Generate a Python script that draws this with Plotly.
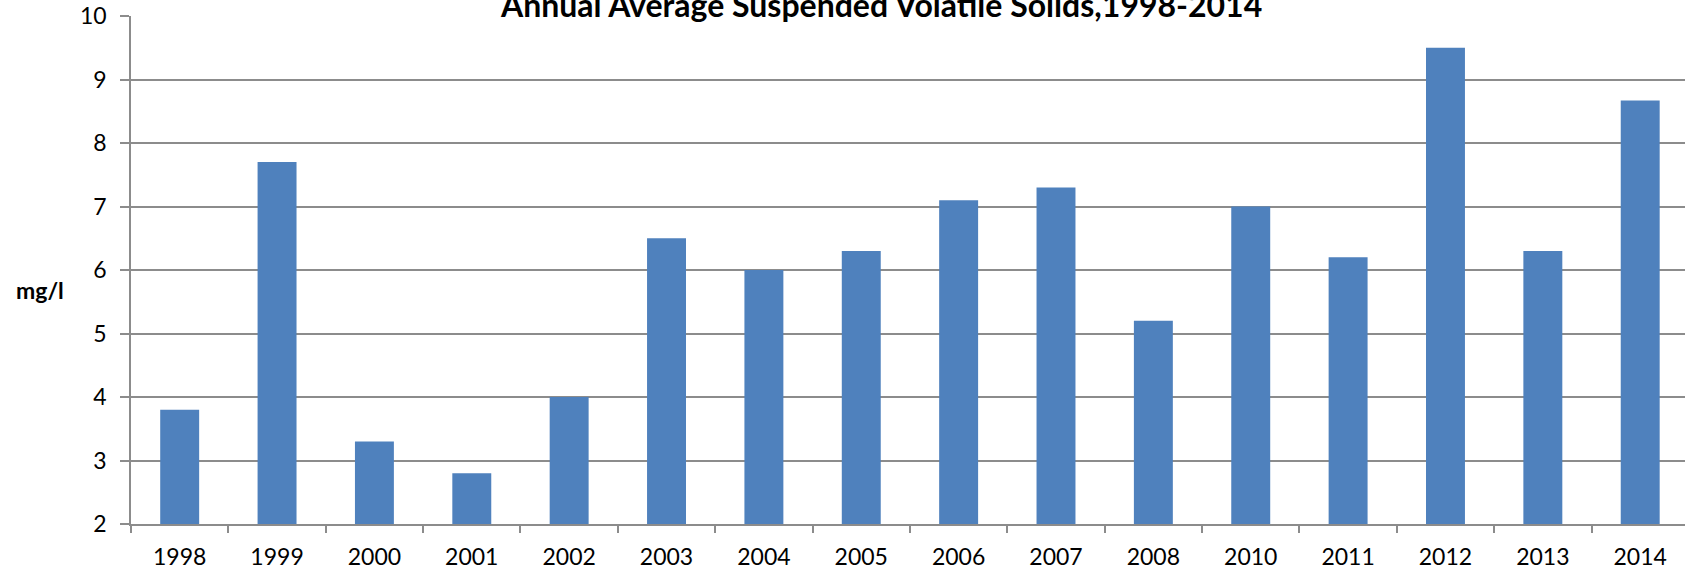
import plotly.graph_objects as go

years = ["1998", "1999", "2000", "2001", "2002", "2003", "2004", "2005",
         "2006", "2007", "2008", "2010", "2011", "2012", "2013", "2014"]
svs_mg_l = [3.8, 7.7, 3.3, 2.8, 4.0, 6.5, 6.0, 6.3,
            7.1, 7.3, 5.2, 7.0, 6.2, 9.5, 6.3, 8.67]
y_ticks = [2, 3, 4, 5, 6, 7, 8, 9, 10]

title_text = "Annual Average Suspended Volatile Solids,1998-2014"
y_label = "mg/l"

FONT = "Lato, 'Open Sans', sans-serif"
GRID = "#8c8c8c"
BAR = "#4F81BD"
FLOOR = 2  # value where the y axis starts; bars rise from here

fig = go.Figure(go.Bar(
    x=years, y=[v - FLOOR for v in svs_mg_l], base=FLOOR,
    marker=dict(color=BAR, line=dict(width=0)), showlegend=False,
))

fig.update_layout(
    width=1685, height=577,
    margin=dict(l=131, r=0, t=16, b=53),
    paper_bgcolor="white", plot_bgcolor="white",
    bargap=0.6,
    font=dict(family=FONT, size=23, color="#000000"),
    xaxis=dict(
        type="category", range=[-0.5, 15.46],
        showline=True, linecolor=GRID, linewidth=1.5,
        ticks="outside", tickson="boundaries", ticklen=7, tickcolor=GRID, tickwidth=1.5,
        showgrid=False, tickfont=dict(size=23), ticklabelstandoff=12,
    ),
    yaxis=dict(
        range=[2, 10], tickvals=y_ticks,
        showline=True, linecolor=GRID, linewidth=1.5,
        ticks="outside", ticklen=9, tickcolor=GRID, tickwidth=1.5,
        showgrid=True, gridcolor=GRID, gridwidth=1.5,
        zeroline=False, tickfont=dict(size=23), ticklabelstandoff=9,
    ),
    annotations=[
        dict(text="<b>" + title_text + "</b>", xref="paper", yref="paper",
             x=(881 - 131) / 1554, y=1.022, xanchor="center", yanchor="middle",
             showarrow=False, font=dict(family=FONT, size=32, color="#000000")),
        dict(text="<b>" + y_label + "</b>", xref="paper", yref="paper",
             x=(40 - 131) / 1554, y=(524 - 290) / 508, xanchor="center", yanchor="middle",
             showarrow=False, font=dict(family=FONT, size=23, color="#000000")),
    ],
)

fig.write_html("out.html")
